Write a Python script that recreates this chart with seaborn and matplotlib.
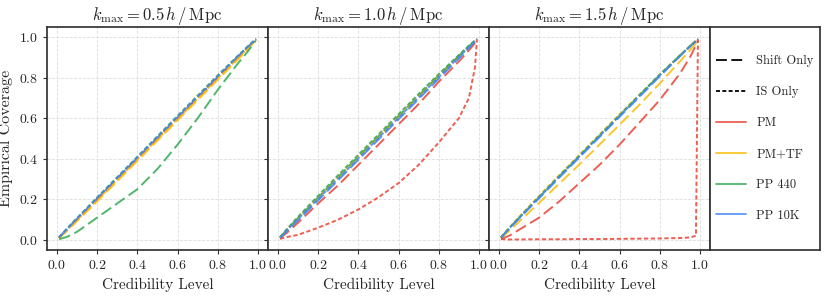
import pandas as pd
import seaborn as sns
import matplotlib.pyplot as plt
from matplotlib.lines import Line2D

# credibility levels shared by every curve
CRED = [0.01, 0.05, 0.1, 0.2, 0.3, 0.4, 0.5, 0.6, 0.7, 0.8, 0.9, 0.95, 0.98, 0.99]

PANEL_TITLES = [r"$k_{\rm max} = 0.5\,h\,/\,{\rm Mpc}$",
                r"$k_{\rm max} = 1.0\,h\,/\,{\rm Mpc}$",
                r"$k_{\rm max} = 1.5\,h\,/\,{\rm Mpc}$"]
METHODS = ["PM", "PM+TF", "PP 440", "PP 10K"]
MODES = ["Shift Only", "IS Only"]

# k_max = 0.5
K05_SHIFT_PM = [0.010, 0.050, 0.100, 0.200, 0.300, 0.400, 0.500, 0.600, 0.700, 0.800, 0.900, 0.950, 0.980, 0.990]
K05_SHIFT_PMTF = [0.008, 0.045, 0.093, 0.190, 0.290, 0.390, 0.490, 0.590, 0.690, 0.790, 0.890, 0.940, 0.975, 0.988]
K05_SHIFT_PP440 = [0.003, 0.015, 0.040, 0.110, 0.180, 0.250, 0.350, 0.470, 0.600, 0.740, 0.870, 0.930, 0.970, 0.985]
K05_SHIFT_PP10K = [0.012, 0.055, 0.105, 0.205, 0.305, 0.405, 0.505, 0.605, 0.705, 0.805, 0.905, 0.952, 0.981, 0.991]
K05_IS_PM = [0.011, 0.052, 0.102, 0.202, 0.302, 0.402, 0.502, 0.602, 0.702, 0.802, 0.902, 0.951, 0.980, 0.990]
K05_IS_PMTF = [0.010, 0.050, 0.098, 0.196, 0.296, 0.396, 0.496, 0.596, 0.696, 0.796, 0.896, 0.946, 0.978, 0.989]
K05_IS_PP440 = [0.012, 0.056, 0.108, 0.210, 0.310, 0.410, 0.512, 0.612, 0.712, 0.812, 0.908, 0.955, 0.982, 0.991]
K05_IS_PP10K = [0.012, 0.055, 0.106, 0.207, 0.307, 0.408, 0.508, 0.608, 0.708, 0.808, 0.906, 0.953, 0.981, 0.991]

# k_max = 1.0
K10_SHIFT_PM = [0.008, 0.040, 0.085, 0.180, 0.270, 0.370, 0.470, 0.570, 0.670, 0.780, 0.880, 0.935, 0.970, 0.985]
K10_SHIFT_PMTF = [0.011, 0.054, 0.104, 0.205, 0.305, 0.405, 0.505, 0.605, 0.705, 0.805, 0.903, 0.952, 0.981, 0.991]
K10_SHIFT_PP440 = [0.012, 0.056, 0.108, 0.210, 0.312, 0.412, 0.512, 0.612, 0.712, 0.812, 0.908, 0.955, 0.982, 0.991]
K10_SHIFT_PP10K = [0.010, 0.048, 0.097, 0.195, 0.295, 0.395, 0.495, 0.595, 0.695, 0.795, 0.895, 0.946, 0.978, 0.989]
K10_IS_PM = [0.005, 0.015, 0.025, 0.060, 0.100, 0.150, 0.210, 0.280, 0.370, 0.480, 0.600, 0.700, 0.850, 0.990]
K10_IS_PMTF = [0.012, 0.057, 0.110, 0.212, 0.314, 0.414, 0.514, 0.614, 0.714, 0.814, 0.910, 0.956, 0.982, 0.991]
K10_IS_PP440 = [0.013, 0.060, 0.114, 0.218, 0.320, 0.420, 0.520, 0.620, 0.720, 0.818, 0.912, 0.958, 0.983, 0.991]
K10_IS_PP10K = [0.011, 0.053, 0.103, 0.203, 0.303, 0.403, 0.503, 0.603, 0.703, 0.803, 0.902, 0.951, 0.980, 0.990]

# k_max = 1.5
K15_SHIFT_PM = [0.005, 0.020, 0.050, 0.110, 0.190, 0.280, 0.370, 0.470, 0.580, 0.690, 0.820, 0.900, 0.960, 0.985]
K15_SHIFT_PMTF = [0.009, 0.044, 0.090, 0.183, 0.278, 0.372, 0.470, 0.568, 0.668, 0.772, 0.880, 0.935, 0.970, 0.985]
K15_SHIFT_PP440 = [0.012, 0.057, 0.110, 0.212, 0.314, 0.414, 0.514, 0.614, 0.714, 0.814, 0.910, 0.956, 0.982, 0.991]
K15_SHIFT_PP10K = [0.011, 0.054, 0.105, 0.206, 0.307, 0.407, 0.507, 0.607, 0.707, 0.807, 0.905, 0.953, 0.981, 0.990]
K15_IS_PM = [0.004, 0.002, 0.002, 0.003, 0.003, 0.004, 0.004, 0.005, 0.006, 0.007, 0.009, 0.012, 0.020, 0.990]
K15_IS_PMTF = [0.013, 0.060, 0.114, 0.218, 0.320, 0.420, 0.520, 0.620, 0.718, 0.816, 0.910, 0.956, 0.982, 0.991]
K15_IS_PP440 = [0.012, 0.057, 0.110, 0.213, 0.315, 0.415, 0.515, 0.615, 0.715, 0.815, 0.909, 0.955, 0.982, 0.991]
K15_IS_PP10K = [0.012, 0.056, 0.108, 0.210, 0.312, 0.412, 0.512, 0.612, 0.712, 0.812, 0.907, 0.954, 0.981, 0.991]

PANELS = [
    {"Shift Only": [K05_SHIFT_PM, K05_SHIFT_PMTF, K05_SHIFT_PP440, K05_SHIFT_PP10K],
     "IS Only": [K05_IS_PM, K05_IS_PMTF, K05_IS_PP440, K05_IS_PP10K]},
    {"Shift Only": [K10_SHIFT_PM, K10_SHIFT_PMTF, K10_SHIFT_PP440, K10_SHIFT_PP10K],
     "IS Only": [K10_IS_PM, K10_IS_PMTF, K10_IS_PP440, K10_IS_PP10K]},
    {"Shift Only": [K15_SHIFT_PM, K15_SHIFT_PMTF, K15_SHIFT_PP440, K15_SHIFT_PP10K],
     "IS Only": [K15_IS_PM, K15_IS_PMTF, K15_IS_PP440, K15_IS_PP10K]},
]

COLORS = {"PM": "#EA4335", "PM+TF": "#FBBC05", "PP 440": "#34A853", "PP 10K": "#4285F4"}
DASHES = {"Shift Only": (6, 2.5), "IS Only": (2.2, 1.3)}


def build_frame(panel):
    rows = []
    for mode in MODES:
        for method, ys in zip(METHODS, panel[mode]):
            for x, y in zip(CRED, ys):
                rows.append({"cred": x, "cov": y, "method": method, "mode": mode})
    return pd.DataFrame(rows)


sns.set_theme(style="ticks")
plt.rcParams["font.family"] = ["cmr10"]
plt.rcParams["mathtext.fontset"] = "cm"
plt.rcParams["axes.formatter.use_mathtext"] = True
plt.rcParams["axes.edgecolor"] = "#333333"

fig = plt.figure(figsize=(8.3, 2.97), dpi=100)
left, bottom, w, h = 47 / 830, 1 - 250 / 297, 221 / 830, 223 / 297
axes = [fig.add_axes([left + i * w, bottom, w, h]) for i in range(3)]

for i, ax in enumerate(axes):
    df = build_frame(PANELS[i])
    ax.grid(True, color="#dddddd", linestyle="--", linewidth=0.6)
    ax.set_axisbelow(True)
    for mode in MODES:
        for method in METHODS:
            sub = df[(df["mode"] == mode) & (df["method"] == method)]
            sns.lineplot(data=sub, x="cred", y="cov", ax=ax, color=COLORS[method],
                         alpha=0.85, linewidth=1.4, dashes=False, estimator=None,
                         linestyle=(0, DASHES[mode]))
    ax.set_xlim(-0.05, 1.05)
    ax.set_ylim(-0.05, 1.05)
    ax.set_xticks([0, 0.2, 0.4, 0.6, 0.8, 1.0])
    ax.set_yticks([0, 0.2, 0.4, 0.6, 0.8, 1.0])
    ax.tick_params(labelsize=10, length=3, width=0.8, color="#333333")
    ax.set_xlabel("Credibility Level", fontsize=11)
    ax.set_title(PANEL_TITLES[i], fontsize=12, pad=4)
    if i == 0:
        ax.set_ylabel("Empirical Coverage", fontsize=11.5)
    else:
        ax.set_ylabel("")
        ax.tick_params(labelleft=False)

# legend lives in its own framed box to the right
lax = fig.add_axes([710 / 830, bottom, 110 / 830, h])
lax.set_xticks([])
lax.set_yticks([])
handles = [Line2D([], [], color="black", linewidth=1.3, linestyle=(0, DASHES[m])) for m in MODES]
handles += [Line2D([], [], color=COLORS[m], alpha=0.85, linewidth=1.3) for m in METHODS]
lax.legend(handles, MODES + METHODS, loc="center", frameon=False, fontsize=9,
           labelspacing=1.5, handlelength=2.4)

fig.savefig("out.png", dpi=100)
